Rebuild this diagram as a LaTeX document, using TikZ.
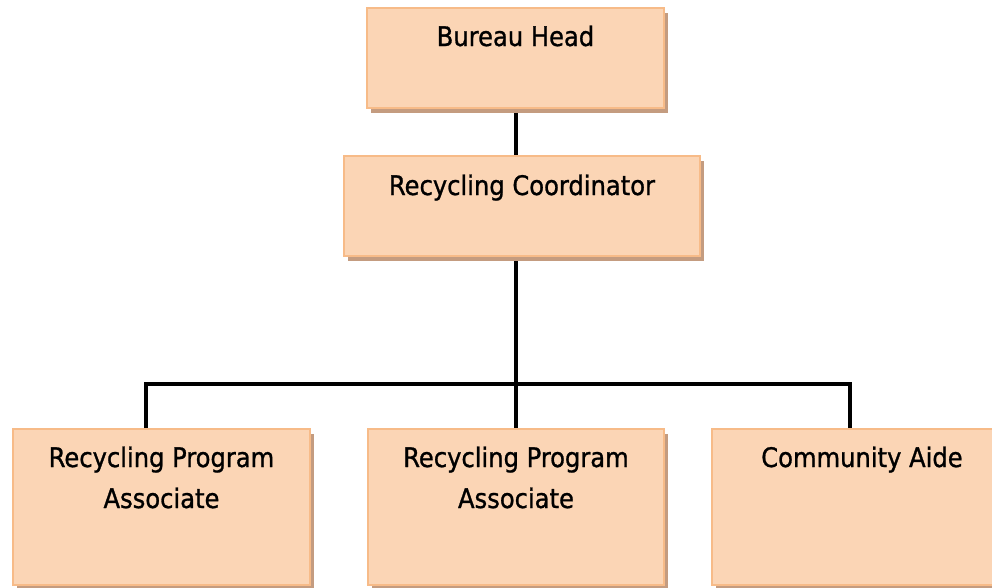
\documentclass[tikz,border=0pt]{standalone}
\usepackage{fontspec}
\setmainfont[FakeBold=1.0]{DejaVu Sans Condensed}
\usetikzlibrary{shadows}
\definecolor{boxfill}{HTML}{FBD5B5}
\definecolor{boxline}{HTML}{F7BB88}
\definecolor{boxshadow}{HTML}{C49C80}
\tikzset{
  orgbox/.style={draw=boxline, line width=1.5pt, fill=boxfill, inner sep=0pt,
    anchor=north west,
    drop shadow={shadow xshift=2.8pt, shadow yshift=-3.6pt, fill=boxshadow, opacity=1}},
  lbl/.style={anchor=base, inner sep=0pt, align=center, font=\fontsize{20.2}{30.75}\selectfont},
  conn/.style={line width=2.8pt, black}
}
\begin{document}
\begin{tikzpicture}[x=0.75pt, y=-0.75pt]
\useasboundingbox (0,0) rectangle (992,587);
\clip (0,0) rectangle (992,587);
\node[orgbox, minimum width=297*0.75pt, minimum height=100*0.75pt] (bh) at (366,7) {};
\node[orgbox, minimum width=356*0.75pt, minimum height=100*0.75pt] (rc) at (343,155) {};
\node[orgbox, minimum width=297*0.75pt, minimum height=156*0.75pt] (pa1) at (12,428) {};
\node[orgbox, minimum width=296*0.75pt, minimum height=156*0.75pt] (pa2) at (367,428) {};
\node[orgbox, minimum width=300*0.75pt, minimum height=156*0.75pt] (ca) at (711,428) {};
\node[lbl] (tbh) at ([yshift=-29.25pt]bh.north) {Bureau Head};
\node[lbl] (trc) at ([yshift=-30pt]rc.north) {Recycling Coordinator};
\node[lbl] (tpa1) at ([yshift=-60pt]pa1.north) {Recycling Program\\Associate};
\node[lbl] (tpa2) at ([yshift=-60pt]pa2.north) {Recycling Program\\Associate};
\node[lbl] (tca) at ([yshift=-29.25pt]ca.north) {Community Aide};
\coordinate (j) at (516,384);
\coordinate (jl) at (146,384);
\coordinate (jr) at (850,384);
\draw[conn] ([yshift=-3pt]bh.south -| j) -- (rc.north -| j);
\draw[conn] ([yshift=-3pt]rc.south -| j) -- (j) -- (pa2.north -| j);
\draw[conn] (jl |- pa1.north) -- (jl) -- (jr) -- (jr |- ca.north);
\end{tikzpicture}
\end{document}
